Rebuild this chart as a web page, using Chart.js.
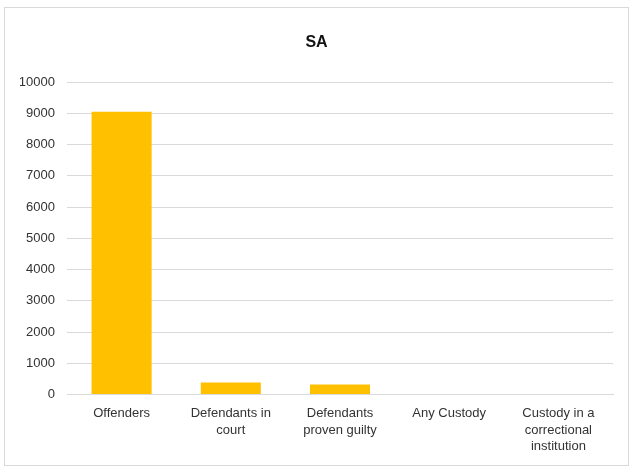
<!DOCTYPE html>
<html>
<head>
<meta charset="utf-8">
<script src="https://cdn.jsdelivr.net/npm/chart.js@4"></script>
<style>
  html, body { margin: 0; padding: 0; background: #fff; }
  canvas { display: block; }
</style>
</head>
<body>
<canvas id="theCanvas" width="633" height="472"></canvas>
<script>
// counts per stage
var stages = [
    'Offenders',
    ['Defendants in', 'court'],
    ['Defendants', 'proven guilty'],
    'Any Custody',
    ['Custody in a', 'correctional', 'institution']
]
var counts = [9050, 380, 320, 0, 0]
var yMax = 10000
var yStep = 1000

// light frame round the whole chart
var frame = {
    id: 'frame',
    beforeDraw: function(chart){
        var c = chart.ctx
        c.save()
        c.fillStyle = '#fff'
        c.fillRect(0, 0, chart.width, chart.height)
        c.strokeStyle = '#d9d9d9'
        c.lineWidth = 1
        c.strokeRect(4.5, 7.5, 624, 458)
        c.restore()
    }
}

var ctx = document.getElementById('theCanvas')
var myChart = new Chart(ctx, {
    type: 'bar',
    data: {
        labels: stages,
        datasets: [{
            data: counts,
            backgroundColor: '#FFC000',
            categoryPercentage: 1,
            barPercentage: 0.55
        }]
    },
    options: {
        responsive: false,
        animation: false,
        devicePixelRatio: 1,
        layout: { padding: { left: 20, right: 20, top: 0, bottom: 14 } },
        plugins: {
            legend: { display: false },
            tooltip: { enabled: false },
            title: {
                display: true,
                text: 'SA',
                color: '#111',
                font: { family: 'Liberation Sans, Arial', size: 16, weight: 'bold' },
                padding: { top: 33, bottom: 30 }
            }
        },
        scales: {
            x: {
                grid: { display: false },
                border: { color: '#d9d9d9' },
                ticks: {
                    color: '#333',
                    font: { family: 'Liberation Sans, Arial', size: 13, lineHeight: 1.27 },
                    maxRotation: 0,
                    autoSkip: false,
                    padding: 3
                }
            },
            y: {
                min: 0,
                max: yMax,
                afterFit: function(s){ s.width = 47 },
                grid: { color: '#d9d9d9', drawTicks: false, lineWidth: 1 },
                border: { display: false },
                ticks: {
                    stepSize: yStep,
                    autoSkip: false,
                    color: '#333',
                    font: { family: 'Liberation Sans, Arial', size: 13 },
                    padding: 12,
                    callback: function(v){ return String(v) }
                }
            }
        }
    },
    plugins: [frame]
})
</script>
</body>
</html>
